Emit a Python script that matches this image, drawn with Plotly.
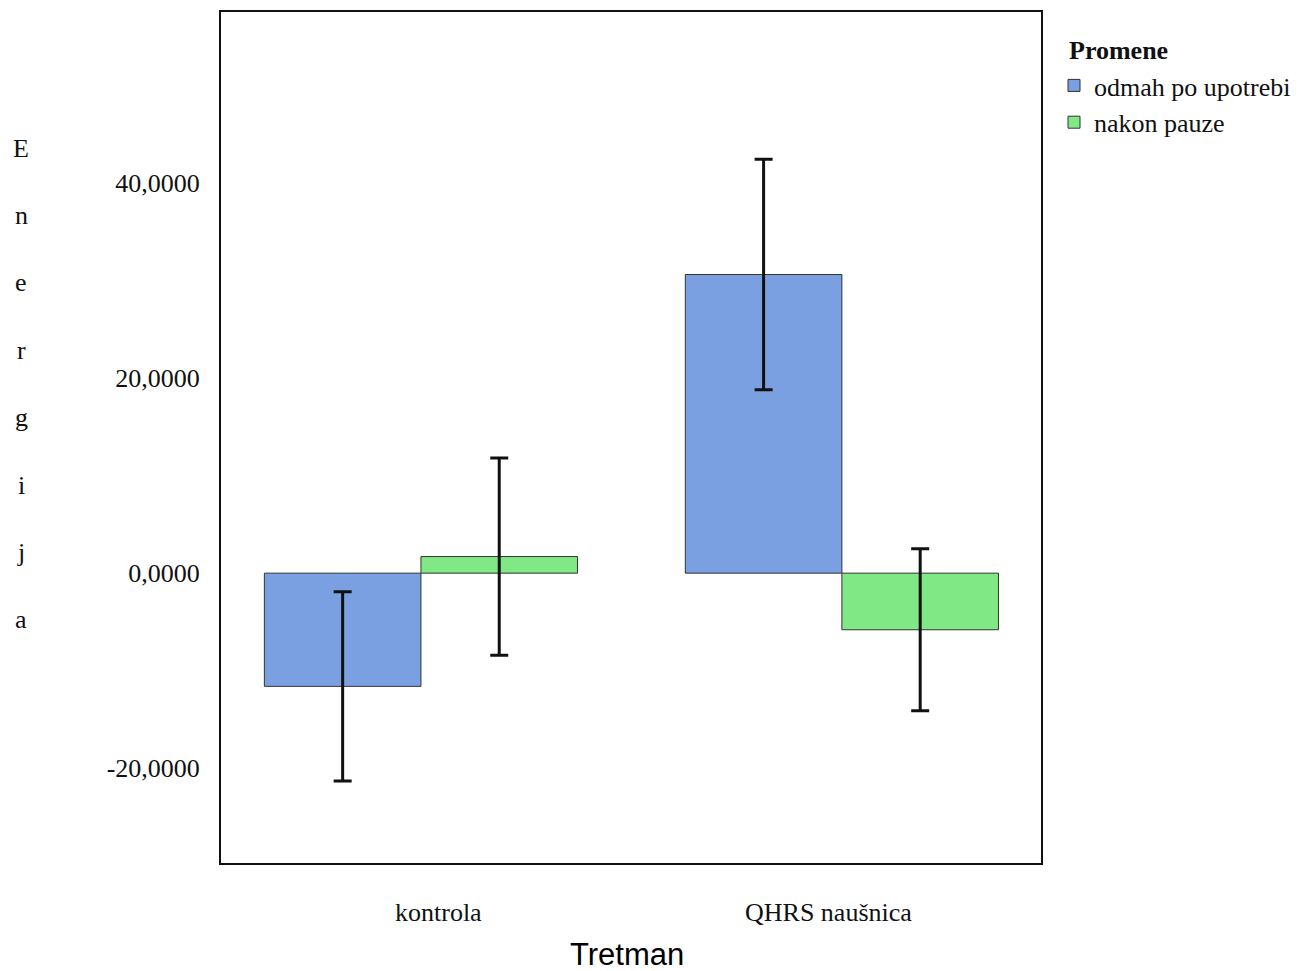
import plotly.graph_objects as go

categories = ["kontrola", "QHRS naušnica"]
series_names = ["odmah po upotrebi", "nakon pauze"]
odmah_values = [-11.6, 30.6]
odmah_err = [9.7, 11.8]
nakon_values = [1.7, -5.8]
nakon_err = [10.1, 8.3]
tick_vals = [-20, 0, 20, 40]
tick_text = ["-20,0000", "0,0000", "20,0000", "40,0000"]
y_title = "Energija"
x_title = "Tretman"
legend_title = "Promene"

W, H = 1299, 971
L, R, T, B = 221, 1041, 12, 863
pw, ph = R - L, B - T

serif = "Liberation Serif, Times New Roman, serif"
sans = "Liberation Sans, Arial, sans-serif"

fig = go.Figure()
fig.add_trace(go.Bar(
    x=categories, y=odmah_values, name=series_names[0],
    marker=dict(color="#7aa0e2", line=dict(color="#333333", width=1)),
    error_y=dict(type="data", array=odmah_err, color="#111111", thickness=3, width=9),
))
fig.add_trace(go.Bar(
    x=categories, y=nakon_values, name=series_names[1],
    marker=dict(color="#80e985", line=dict(color="#333333", width=1)),
    error_y=dict(type="data", array=nakon_err, color="#111111", thickness=3, width=9),
))

annotations = []
# category labels
label_px = [438, 828]
for cat, px in zip(categories, label_px):
    annotations.append(dict(text=cat, xref="paper", yref="paper",
                            x=(px - L) / pw, y=(B - 912) / ph,
                            xanchor="center", yanchor="middle", showarrow=False,
                            font=dict(family=serif, size=26, color="#111111")))
# x axis title
annotations.append(dict(text=x_title, xref="paper", yref="paper",
                        x=(627 - L) / pw, y=(B - 954) / ph,
                        xanchor="center", yanchor="middle", showarrow=False,
                        font=dict(family=sans, size=31, color="#000000")))
# legend title
annotations.append(dict(text="<b>" + legend_title + "</b>", xref="paper", yref="paper",
                        x=(1067 - L) / pw, y=(B - 50) / ph,
                        xanchor="left", yanchor="middle", showarrow=False,
                        font=dict(family=serif, size=26, color="#111111")))
# vertical y title, one letter per line
for i, ch in enumerate(y_title):
    py = 148 + i * 67.4
    annotations.append(dict(text=ch, xref="paper", yref="paper",
                            x=(21 - L) / pw, y=(B - py) / ph,
                            xanchor="center", yanchor="middle", showarrow=False,
                            font=dict(family=serif, size=26, color="#111111")))

fig.update_layout(
    width=W, height=H,
    margin=dict(l=L, r=W - R, t=T, b=H - B, autoexpand=False),
    paper_bgcolor="white", plot_bgcolor="white",
    barmode="group", bargap=0.256, bargroupgap=0,
    hovermode=False,
    showlegend=True,
    legend=dict(
        font=dict(family=serif, size=26, color="#111111"),
        x=(1054 - L) / pw, y=(B - 62) / ph, xanchor="left", yanchor="top",
        bgcolor="rgba(0,0,0,0)", tracegroupgap=0, itemwidth=30,
    ),
    annotations=annotations,
)
fig.update_xaxes(
    type="category", range=[-0.475, 1.473],
    showticklabels=False, ticks="", showgrid=False, zeroline=False,
    showline=True, mirror=True, linecolor="#111111", linewidth=2,
)
fig.update_yaxes(
    range=[-29.7, 57.5], tickvals=tick_vals, ticktext=tick_text,
    ticks="", ticklabelstandoff=14,
    tickfont=dict(family=serif, size=26, color="#111111"),
    showgrid=False, zeroline=False,
    showline=True, mirror=True, linecolor="#111111", linewidth=2,
)

fig.write_html("out.html")
